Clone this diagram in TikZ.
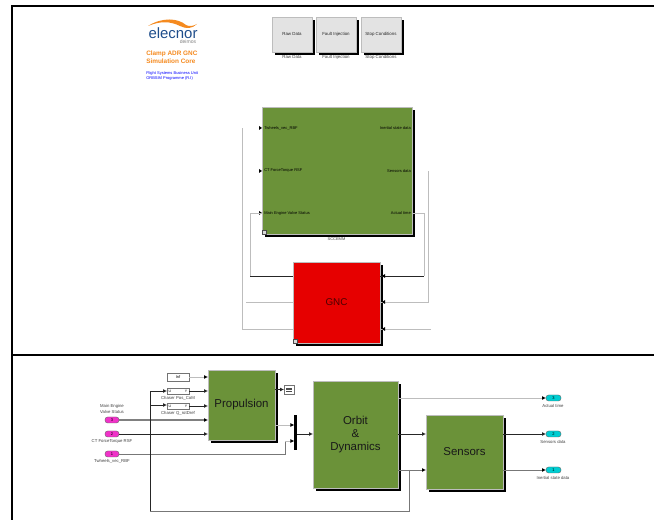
\documentclass[tikz,border=0pt]{standalone}
\usepackage{fontspec}
\setmainfont{Liberation Sans}
\usetikzlibrary{arrows.meta,shadows}
\definecolor{gblock}{HTML}{6B9239}
\definecolor{rblock}{HTML}{E60000}
\definecolor{pinkp}{HTML}{F032C8}
\definecolor{cyanp}{HTML}{00CDD2}
\definecolor{orng}{HTML}{F58A1F}
\definecolor{lgray}{HTML}{BDBDBD}
\definecolor{mgray}{HTML}{777777}
\definecolor{logoblue}{HTML}{1F4E8C}
\tikzset{
  frameline/.style={line width=1.5pt,black},
  blockbox/.style={inner sep=0pt,outer sep=0pt,align=center,draw=lgray,line width=.5pt,
    general shadow={shadow xshift=2pt,shadow yshift=-2pt,fill=black}},
  greenbox/.style={blockbox,fill=gblock,text=black!90},
  redbox/.style={blockbox,fill=rblock,text=black!70!red},
  btn/.style={blockbox,fill=black!11,font=\fontsize{3.3}{4}\selectfont,text=black!85},
  minibox/.style={inner sep=0pt,outer sep=0pt,draw=black!55,fill=white,line width=.4pt,font=\fontsize{3}{3.5}\selectfont},
  inport/.style={rounded corners=2pt,inner sep=0pt,outer sep=0pt,fill=pinkp,draw=black!60,line width=.3pt,font=\fontsize{3}{3.5}\selectfont},
  outport/.style={rounded corners=2pt,inner sep=0pt,outer sep=0pt,fill=cyanp,draw=black!60,line width=.3pt,font=\fontsize{3}{3.5}\selectfont},
  captxt/.style={inner sep=0pt,font=\fontsize{3.3}{4.4}\selectfont,text=black!75,align=center},
  plab/.style={inner sep=0pt,font=\fontsize{3}{3.5}\selectfont,text=black},
  sig/.style={line width=.6pt,black!85,-{Latex[length=3pt,width=3pt]}},
  sigl/.style={line width=.7pt,lgray,-{Latex[length=3pt,width=3pt,color=black]}},
  sigm/.style={line width=.6pt,mgray,-{Latex[length=3pt,width=3pt,color=black]}},
  wire/.style={line width=.6pt,black!85},
  wirel/.style={line width=.7pt,lgray},
  wirem/.style={line width=.6pt,mgray},
}
% \blk{name}{x1}{y1}{x2}{y2}{style}{text}: block from its corners in pixels
\newcommand{\blk}[7]{\pgfmathsetmacro{\blkw}{(#4-#2)*.75}\pgfmathsetmacro{\blkh}{(#5-#3)*.75}%
  \node[#6,minimum width=\blkw pt,minimum height=\blkh pt] (#1) at ({(#2+#4)/2},{(#3+#5)/2}) {#7};}
\begin{document}
\begin{tikzpicture}[x=.75pt,y=-.75pt]
\useasboundingbox (0,0) rectangle (654,520);
\fill[white] (0,0) rectangle (654,520);
% frame
\coordinate (ftl) at (12,6); \coordinate (ftr) at (654,6);
\coordinate (fbl) at (12,520); \coordinate (fml) at (12,355); \coordinate (fmr) at (654,355);
\draw[frameline] (fbl) -- (ftl) -- (ftr);
\draw[frameline] (fml) -- (fmr);
% logo
\fill[orng] (148,26) .. controls (162,17) and (178,18) .. (186,25) .. controls (190,27) and (193,26) .. (197,24) .. controls (192,29) and (186,29) .. (180,26) .. controls (170,21) and (160,21) .. (148,26) -- cycle;
\node[inner sep=0pt,font=\fontsize{11.2}{13}\selectfont,text=logoblue] (logo) at (173,33) {elecnor};
\node[inner sep=0pt,font=\fontsize{3.8}{4.5}\selectfont,text=black!50] (logob) at (188,41.8) {deimos};
\node[inner sep=0pt,anchor=west,font=\bfseries\fontsize{4.8}{5.5}\selectfont,text=orng] (tt1) at (146,53.5) {Clamp ADR GNC};
\node[inner sep=0pt,anchor=west,font=\bfseries\fontsize{4.8}{5.5}\selectfont,text=orng] (tt2) at (146,61.5) {Simulation Core};
\node[inner sep=0pt,anchor=west,font=\fontsize{3}{3.5}\selectfont,text=blue] (tt3) at (146,73.5) {Flight Systems Business Unit};
\node[inner sep=0pt,anchor=west,font=\fontsize{3}{3.5}\selectfont,text=blue] (tt4) at (146,78.5) {ORBSIM Programme (R.I)};
% buttons
\blk{b1}{272}{17}{312}{52}{btn}{Raw Data}
\blk{b2}{316}{17}{356}{52}{btn}{Fault Injection}
\blk{b3}{361}{17}{401}{52}{btn}{Stop Conditions}
\node[captxt] (bl1) at (292,57) {Raw Data};
\node[captxt] (bl2) at (336,57) {Fault Injection};
\node[captxt] (bl3) at (381,57) {Stop Conditions};
% top blocks
\blk{plant}{262}{107}{412}{234}{greenbox}{}
\node[captxt,font=\fontsize{3}{3.5}\selectfont] (plantl) at (336.5,239) {SCCEMM};
\node[plab,anchor=west] (pi1) at (264,128) {Twheels\_vec\_RBF};
\node[plab,anchor=west] (pi2) at (264,171) {CT ForceTorque RSF};
\node[plab,anchor=west] (pi3) at (264,213) {Main Engine Valve Status};
\node[plab,anchor=east] (po1) at (411,128) {Inertial state data};
\node[plab,anchor=east] (po2) at (411,171) {Sensors data};
\node[plab,anchor=east] (po3) at (411,213) {Actual time};
\node[inner sep=0pt,minimum size=3pt,fill=black!15,draw=black!70,line width=.3pt] (plicon) at (264,232) {};
\blk{gnc}{293}{262}{380}{343}{redbox,font=\fontsize{7.4}{8}\selectfont}{GNC}
\node[inner sep=0pt,minimum size=3pt,fill=black!15,draw=black!70,line width=.3pt] (gnicon) at (295,341) {};
% top port ticks
\foreach \n/\yy in {a/128,b/171,c/213}{
  \coordinate (i\n) at (262,\yy);
  \fill[black] (259,\yy-2) -- (262,\yy) -- (259,\yy+2) -- cycle;
}
\coordinate (oa) at (412,128); \coordinate (ob) at (412,171); \coordinate (oc) at (412,213);
\coordinate (ga) at (380,276); \coordinate (gb) at (380,302); \coordinate (gc) at (380,329);
\coordinate (gl1) at (293,276); \coordinate (gl2) at (293,302); \coordinate (gl3) at (293,329);
% top wires
\coordinate (w1) at (250,276); \coordinate (w2) at (250,213);
\draw[wire] (gl1) -- (w1);
\draw[wirel] (w1) -- (w2) -- (ic);
\coordinate (w3) at (246,302); \draw[wirel] (gl2) -- (w3);
\coordinate (w4) at (242,329); \coordinate (w5) at (242,128);
\draw[wirel] (gl3) -- (w4) -- (w5);
\coordinate (w6) at (424,276); \coordinate (w7) at (424,213);
\draw[wire] (ga) -- (w6);
\draw[wirel] (w6) -- (w7) -- (oc);
\coordinate (w8) at (428,302); \coordinate (w9) at (428,171);
\draw[wirel] (gb) -- (w8) -- (w9);
\coordinate (w10) at (431,329); \draw[wirel] (gc) -- (w10);
\foreach \yy in {276,302,329}{\fill[black] (385,\yy-2) -- (382,\yy) -- (385,\yy+2) -- cycle;}
% bottom blocks
\blk{prop}{208}{370}{275}{440}{greenbox,font=\fontsize{8.6}{9}\selectfont}{Propulsion}
\blk{orb}{313}{381}{398}{488}{greenbox,font=\fontsize{8.6}{10}\selectfont}{Orbit\\\&\\Dynamics}
\blk{sens}{426}{415}{503}{489}{greenbox,font=\fontsize{8.6}{9}\selectfont}{Sensors}
\blk{inf}{167}{373}{189}{381}{minibox}{Inf}
\blk{ch1}{167}{388}{189}{394}{minibox}{}
\blk{ch2}{167}{403}{189}{409}{minibox}{}
\node[inner sep=0pt,font=\fontsize{2.6}{3}\selectfont] (ch1u) at (170,391) {U};
\node[inner sep=0pt,font=\fontsize{2.6}{3}\selectfont] (ch1y) at (186,391) {Y};
\node[inner sep=0pt,font=\fontsize{2.6}{3}\selectfont] (ch2u) at (170,406) {U};
\node[inner sep=0pt,font=\fontsize{2.6}{3}\selectfont] (ch2y) at (186,406) {Y};
\node[captxt,font=\fontsize{3.2}{4}\selectfont] (ch1l) at (178,398.5) {Chaser Pos\_CoM};
\node[captxt,font=\fontsize{3.2}{4}\selectfont] (ch2l) at (178,413) {Chaser Q\_rotDref};
\blk{ip3}{105}{417}{119}{423}{inport}{3}
\blk{ip2}{105}{431}{119}{437}{inport}{2}
\blk{ip1}{105}{451}{119}{457}{inport}{1}
\node[captxt,font=\fontsize{3.2}{4.2}\selectfont] (ip3l) at (112,409) {Main Engine\\Valve Status};
\node[captxt,font=\fontsize{3.2}{4}\selectfont] (ip2l) at (112,441.5) {CT ForceTorque RSF};
\node[captxt,font=\fontsize{3.2}{4}\selectfont] (ip1l) at (112,461) {Twheels\_vec\_RBF};
\blk{op3}{546}{395}{561}{401}{outport}{3}
\blk{op2}{546}{431}{561}{437}{outport}{2}
\blk{op1}{546}{467}{561}{473}{outport}{1}
\node[captxt,font=\fontsize{3.2}{4}\selectfont] (op3l) at (553,405.5) {Actual time};
\node[captxt,font=\fontsize{3.2}{4}\selectfont] (op2l) at (553,441.5) {Sensors data};
\node[captxt,font=\fontsize{3.2}{4}\selectfont] (op1l) at (553,478) {Inertial state data};
\blk{scope}{284}{385}{294}{394}{minibox}{}
\draw[black!70,line width=.3pt] (286,388) -- (292,388) (286,389.5) -- (292,389.5) (286,391) -- (292,391);
\node[fill=black,inner sep=0pt,outer sep=0pt,minimum width=2.2pt,minimum height=26.5pt] (bus) at (295.5,432.5) {};
% bottom wires
\draw[wirel,-{Latex[length=3pt,width=3pt,color=black]}] (inf.east) -- (prop.west |- inf.east);
\draw[sig] (ch1.east) -- (prop.west |- ch1.east);
\draw[sig] (ch2.east) -- (prop.west |- ch2.east);
\draw[line width=.9pt,black!50,-{Latex[length=3pt,width=3pt,color=black]}] (ip3.east) -- (prop.west |- ip3.east);
\draw[sig] (ip2.east) -- (prop.west |- ip2.east);
\draw[sig] (prop.east |- scope.west) -- (scope.west);
\coordinate (pout) at (275,425);
\coordinate (busa) at (294.4,425); \coordinate (busb) at (294.4,441);
\draw[sigl] (pout) -- (busa);
\coordinate (tw) at (285,454); \coordinate (twu) at (285,441);
\draw[wirem] (ip1.east) -- (tw) -- (twu);
\draw[sigl] (twu) -- (busb);
\coordinate (yc) at (0,434);
\draw[sig] (bus.east |- yc) -- (orb.west |- yc);
\draw[sigl] (orb.east |- op3.west) -- (op3.west);
\draw[sig] (orb.east |- yc) -- (sens.west |- yc);
\draw[sig] (sens.east |- op2.west) -- (op2.west);
\draw[sigm] (sens.east |- op1.west) -- (op1.west);
\draw[sigm] (orb.east |- op1.west) -- (sens.west |- op1.west);
\coordinate (jn) at (409,470); \coordinate (fb1) at (409,511); \coordinate (fb2) at (150,511);
\coordinate (fb3) at (150,391); \coordinate (fb4) at (150,405);
\draw[wirem] (jn) -- (fb1) -- (fb2);
\draw[wire] (fb2) -- (fb3);
\draw[sig] (fb3) -- (ch1.west |- fb3);
\draw[sig] (fb4) -- (ch2.west |- fb4);
\end{tikzpicture}
\end{document}
